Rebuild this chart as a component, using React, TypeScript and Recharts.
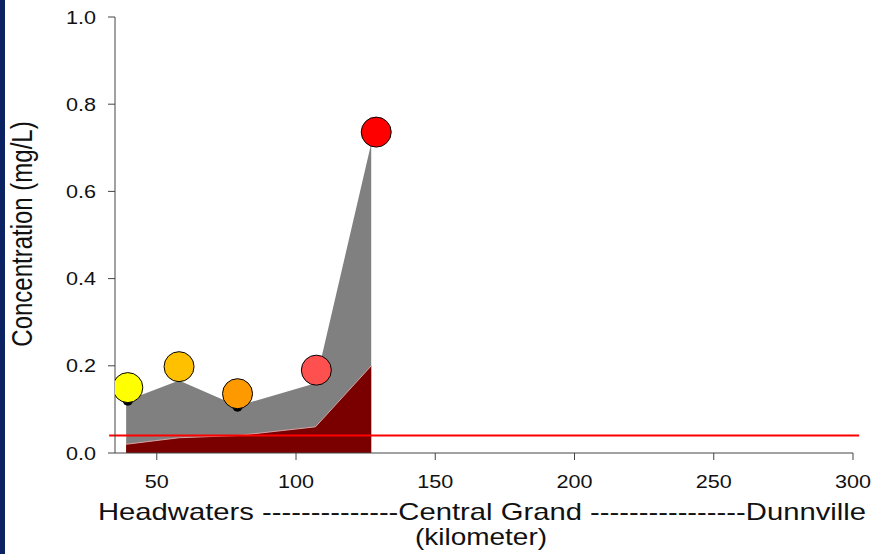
import React from "react"
import {
  ComposedChart,
  Area,
  Scatter,
  Cell,
  XAxis,
  YAxis,
  ReferenceLine,
} from "recharts"

// envelope of measured concentrations along the river (km from source)
const envKm = [39, 58, 79, 107, 127]
const envUpper = [0.12, 0.166, 0.108, 0.16, 0.71]
const envLower = [0.02, 0.035, 0.04, 0.06, 0.2]

// sampling sites (coloured circles) and the small black mean markers
const siteKm = [39.6, 58, 79, 107.3, 128.8]
const siteConc = [0.15, 0.198, 0.136, 0.19, 0.736]
const meanConc = [0.12, 0.19, 0.106, 0.18, 0.73]
const siteColors = ["#ffff00", "#ffc000", "#ff9900", "#ff5050", "#ff0000"]

const guideline = 0.04
const xTicks = [50, 100, 150, 200, 250, 300]
const yTicks = [0, 0.2, 0.4, 0.6, 0.8, 1.0]

const FONT = "Arial, 'Liberation Sans', sans-serif"
const STRETCH = 1.2 // the original picture is widened a bit

const envData = envKm.map((km, i) => ({ km, upper: envUpper[i], lower: envLower[i] }))
const siteData = siteKm.map((km, i) => ({ km, conc: siteConc[i] }))
const meanData = siteKm.map((km, i) => ({ km, conc: meanConc[i] }))

// eslint-disable-next-line @typescript-eslint/no-explicit-any
function XTick({ x, y, payload }: any) {
  return (
    <g transform={`translate(${x},${y}) scale(${STRETCH},1)`}>
      <text x={0} y={28} textAnchor="middle" fontSize={18} fill="#111" fontFamily={FONT}>
        {payload.value}
      </text>
    </g>
  )
}

// eslint-disable-next-line @typescript-eslint/no-explicit-any
function YTick({ x, y, payload }: any) {
  return (
    <g transform={`translate(${x},${y}) scale(${STRETCH},1)`}>
      <text x={0} y={6.5} textAnchor="end" fontSize={18} fill="#111" fontFamily={FONT}>
        {Number(payload.value).toFixed(1)}
      </text>
    </g>
  )
}

// eslint-disable-next-line @typescript-eslint/no-explicit-any
function XTitle({ viewBox }: any) {
  const top = viewBox?.y ?? 453
  return (
    <g fontFamily={FONT} fill="#111" fontSize={24}>
      <text x={98} y={top + 67} textLength={768} lengthAdjust="spacingAndGlyphs">
        Headwaters --------------Central Grand ----------------Dunnville
      </text>
      <text x={415} y={top + 92} textLength={132} lengthAdjust="spacingAndGlyphs">
        (kilometer)
      </text>
    </g>
  )
}

function YTitle() {
  return (
    <g transform={`translate(32,234) scale(${STRETCH},1) rotate(-90)`}>
      <text x={0} y={0} textAnchor="middle" fontSize={24} fill="#111" fontFamily={FONT}>
        Concentration (mg/L)
      </text>
    </g>
  )
}

// eslint-disable-next-line @typescript-eslint/no-explicit-any
function Bubble({ cx, cy, fill }: any) {
  return <circle cx={cx} cy={cy} r={15} fill={fill} stroke="#000" strokeWidth={1} />
}

// eslint-disable-next-line @typescript-eslint/no-explicit-any
function MeanDot({ cx, cy }: any) {
  return <circle cx={cx} cy={cy} r={5} fill="#000" />
}

export default function App() {
  return (
    <div style={{ position: "absolute", left: 0, top: 0, width: 875, height: 554, background: "#fff" }}>
      <div style={{ position: "absolute", left: 0, top: 0, width: 5, height: 554, background: "#0b2263" }} />
      <ComposedChart
        width={875}
        height={554}
        margin={{ top: 17, right: 22, bottom: 0, left: 0 }}
        style={{ position: "absolute", left: 0, top: 0 }}
      >
        <XAxis
          type="number"
          dataKey="km"
          domain={[35, 300]}
          ticks={xTicks}
          allowDataOverflow
          height={101}
          tickSize={7}
          tickMargin={0}
          tick={<XTick />}
          axisLine={{ stroke: "#444" }}
          tickLine={{ stroke: "#444" }}
          label={<XTitle />}
        />
        <YAxis
          type="number"
          domain={[0, 1]}
          ticks={yTicks}
          width={115}
          tickSize={7}
          tickMargin={12}
          tick={<YTick />}
          axisLine={{ stroke: "#444" }}
          tickLine={{ stroke: "#444" }}
          label={<YTitle />}
        />
        <Area
          data={envData}
          dataKey="upper"
          type="linear"
          fill="#808080"
          fillOpacity={1}
          stroke="none"
          baseValue={0}
          isAnimationActive={false}
        />
        <Area
          data={envData}
          dataKey="lower"
          type="linear"
          fill="#7a0000"
          fillOpacity={1}
          stroke="#d9a3a3"
          strokeWidth={1}
          baseValue={0}
          isAnimationActive={false}
        />
        <ReferenceLine
          segment={[
            { x: 32.9, y: guideline },
            { x: 302.2, y: guideline },
          ]}
          stroke="#ff0000"
          strokeWidth={2}
          ifOverflow="visible"
        />
        <Scatter data={meanData} dataKey="conc" shape={<MeanDot />} isAnimationActive={false} />
        <Scatter data={siteData} dataKey="conc" shape={<Bubble />} isAnimationActive={false}>
          {siteData.map((_, i) => (
            <Cell key={i} fill={siteColors[i]} />
          ))}
        </Scatter>
      </ComposedChart>
    </div>
  )
}
